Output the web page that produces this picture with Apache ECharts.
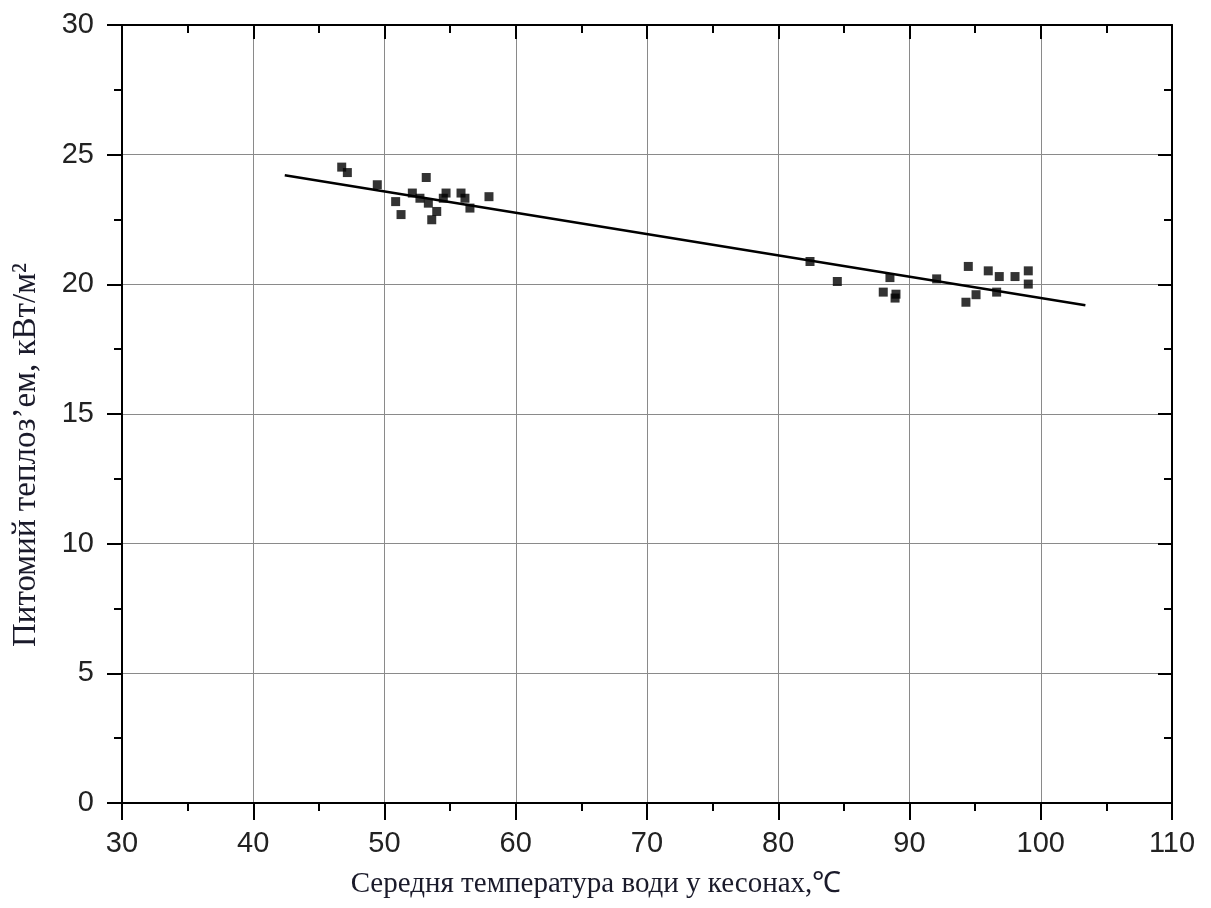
<!DOCTYPE html>
<html>
<head>
<meta charset="utf-8">
<script src="https://cdn.jsdelivr.net/npm/echarts@6/dist/echarts.min.js"></script>
<style>
html,body{margin:0;padding:0;background:#fff;}
#chart{width:1211px;height:908px;}
</style>
</head>
<body>
<div id="chart"></div>
<script>
// Measured data points (x: °C, y: kW/m²)
const pointsX = [46.74, 47.17, 49.45, 50.85, 51.26, 52.12, 53.18, 52.70, 53.34, 53.98, 53.60, 54.69, 54.48, 55.83, 56.13, 56.51, 57.96,
                 82.42, 84.50, 88.51, 88.00, 88.97, 88.90, 92.07, 94.48, 94.30, 95.07, 96.00, 96.84, 96.64, 98.04, 99.05, 99.05];
const pointsY = [24.52, 24.31, 23.84, 23.19, 22.69, 23.52, 24.12, 23.32, 23.13, 22.81, 22.49, 23.52, 23.32, 23.52, 23.32, 22.94, 23.38,
                 20.88, 20.11, 20.26, 19.70, 19.62, 19.47, 20.21, 20.69, 19.31, 19.60, 20.52, 20.30, 19.70, 20.30, 20.52, 20.01];
// Fitted line endpoints
const fitX = [42.4, 103.4];
const fitY = [24.21, 19.19];
// Axis ranges / ticks
const xTicks = [30, 40, 50, 60, 70, 80, 90, 100, 110];
const yTicks = [0, 5, 10, 15, 20, 25, 30];
const xTitle = 'Середня температура води у кесонах,℃';
const yTitle = 'Питомий теплоз’ем, кВт/м²';

const scatterData = pointsX.map((x, i) => [x, pointsY[i]]);
const lineData = fitX.map((x, i) => [x, fitY[i]]);

const labelFont = {color: '#222', fontFamily: 'Liberation Sans, Arial, sans-serif', fontSize: 29};
const serif = 'Liberation Serif, Times New Roman, serif';

const chart = echarts.init(document.getElementById('chart'), null, {renderer: 'canvas'});
chart.setOption({
  animation: false,
  backgroundColor: '#fff',
  grid: {left: 122, right: 39, top: 25, bottom: 105},
  graphic: [{
    type: 'text', x: 596, y: 884, silent: true,
    style: {text: xTitle, font: '29px ' + serif, fill: '#1a1a2a', textAlign: 'center', textVerticalAlign: 'middle'}
  }, {
    type: 'text', x: 26, y: 455, rotation: Math.PI / 2, silent: true,
    style: {text: yTitle, font: '33px ' + serif, fill: '#1a1a2a', textAlign: 'center', textVerticalAlign: 'middle'}
  }],
  xAxis: [{
    type: 'value', position: 'bottom',
    min: xTicks[0], max: xTicks[xTicks.length - 1], interval: 10,
    axisLine: {show: true, onZero: false, lineStyle: {color: '#000', width: 2}},
    axisTick: {show: true, inside: false, length: 17, lineStyle: {color: '#000', width: 2}},
    minorTick: {show: true, splitNumber: 2, length: 8, lineStyle: {color: '#000', width: 2}},
    axisLabel: Object.assign({margin: 26}, labelFont),
    splitLine: {show: true, lineStyle: {color: '#8a8a8a', width: 1}}
  }, {
    type: 'value', position: 'top',
    min: xTicks[0], max: xTicks[xTicks.length - 1], interval: 10,
    axisLine: {show: true, onZero: false, lineStyle: {color: '#000', width: 2}},
    axisTick: {show: true, inside: true, length: 14, lineStyle: {color: '#000', width: 2}},
    minorTick: {show: true, splitNumber: 2, length: 8, lineStyle: {color: '#000', width: 2}},
    axisLabel: {show: false},
    splitLine: {show: false}
  }],
  yAxis: [{
    type: 'value', position: 'left',
    min: yTicks[0], max: yTicks[yTicks.length - 1], interval: 5,
    axisLine: {show: true, onZero: false, lineStyle: {color: '#000', width: 2}},
    axisTick: {show: true, inside: false, length: 15, lineStyle: {color: '#000', width: 2}},
    minorTick: {show: true, splitNumber: 2, length: 8, lineStyle: {color: '#000', width: 2}},
    axisLabel: Object.assign({margin: 28}, labelFont),
    splitLine: {show: true, lineStyle: {color: '#8a8a8a', width: 1}}
  }, {
    type: 'value', position: 'right',
    min: yTicks[0], max: yTicks[yTicks.length - 1], interval: 5,
    axisLine: {show: true, onZero: false, lineStyle: {color: '#000', width: 2}},
    axisTick: {show: true, inside: true, length: 14, lineStyle: {color: '#000', width: 2}},
    minorTick: {show: true, splitNumber: 2, length: 8, lineStyle: {color: '#000', width: 2}},
    axisLabel: {show: false},
    splitLine: {show: false}
  }],
  series: [{
    type: 'line', xAxisIndex: 0, yAxisIndex: 0,
    data: lineData, showSymbol: false, symbol: 'none',
    lineStyle: {color: '#000', width: 2.5}, z: 3
  }, {
    type: 'scatter', xAxisIndex: 0, yAxisIndex: 0,
    data: scatterData, symbol: 'rect', symbolSize: 9,
    itemStyle: {color: '#000'}, z: 4
  }]
});
</script>
</body>
</html>
